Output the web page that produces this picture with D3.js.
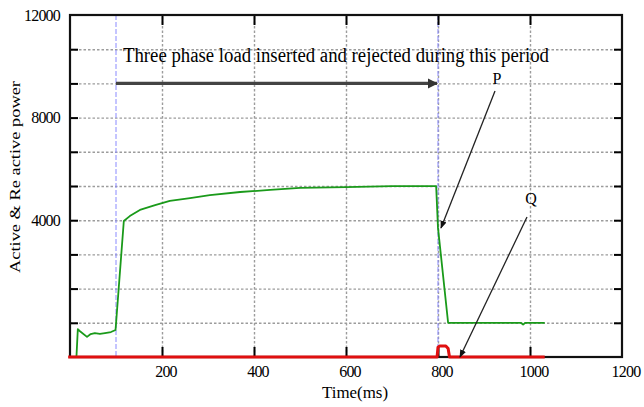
<!DOCTYPE html>
<html>
<head>
<meta charset="utf-8">
<script src="https://cdn.jsdelivr.net/npm/d3@7"></script>
<style>
  html, body { margin: 0; padding: 0; background: #fff; }
  svg text { font-family: "Liberation Serif", "DejaVu Serif", serif; fill: #000; }
</style>
</head>
<body>
<svg id="chart" width="644" height="407"></svg>
<script>
// ---------- data ----------
const xTickValues = [200, 400, 600, 800, 1000, 1200];
const yTickLabels = [4000, 8000, 12000];
const yGridStep = 4000 / 3;
const markerTimes = [100, 800];

const pTime  = [14, 17, 21, 37, 45, 54, 65, 76, 89, 99, 117, 130, 152, 185, 217, 261, 304, 370, 435, 500, 600, 700, 796, 800, 822, 900, 980, 985, 990, 1032];
const pValue = [-1333, -250, -320, -550, -440, -400, -430, -400, -360, -280, 3970, 4160, 4400, 4590, 4750, 4860, 4980, 5100, 5180, 5260, 5290, 5330, 5330, 3700, 0, 0, 0, -70, 0, 0];

const qTime  = [-4, 798, 800, 804, 817, 822, 825, 1032];
const qValue = [-1333, -1333, -950, -900, -900, -1000, -1333, -1333];

const annotationText = "Three phase load inserted and rejected during this period";
const xLabel = "Time(ms)";
const yLabel = "Active & Re active power";

// ---------- layout ----------
const W = 644, H = 407;
const margin = { left: 70, right: 22, top: 15, bottom: 50 };
const svg = d3.select("#chart");

const x = d3.scaleLinear().domain([0, 1200]).range([margin.left, W - margin.right]);
const y = d3.scaleLinear().domain([-yGridStep, 12000]).range([H - margin.bottom, margin.top]);

const x0 = x.range()[0], x1 = x.range()[1];
const yb = y.range()[0], yt = y.range()[1];
const pw = x1 - x0, ph = yb - yt;

// arrow markers
const defs = svg.append("defs");
defs.append("marker").attr("id", "arrBig")
  .attr("viewBox", "0 0 10 10").attr("refX", 9).attr("refY", 5)
  .attr("markerWidth", 3.2).attr("markerHeight", 3.2).attr("orient", "auto")
  .attr("markerUnits", "strokeWidth")
  .append("path").attr("d", "M0,0 L10,5 L0,10 z").attr("fill", "#333");
defs.append("marker").attr("id", "arrSmall")
  .attr("viewBox", "0 0 10 10").attr("refX", 9).attr("refY", 5)
  .attr("markerWidth", 6).attr("markerHeight", 6).attr("orient", "auto")
  .attr("markerUnits", "strokeWidth")
  .append("path").attr("d", "M0,1 L10,5 L0,9 z").attr("fill", "#111");

const gridY = d3.range(0, 9).map(k => k * yGridStep);
const gridX = xTickValues.slice(0, -1);

// gridlines via axes
const gY = svg.append("g").attr("transform", `translate(${x0},0)`)
  .call(d3.axisLeft(y).tickValues(gridY).tickSize(-pw).tickFormat(""));
const gX = svg.append("g").attr("transform", `translate(0,${yb})`)
  .call(d3.axisBottom(x).tickValues(gridX).tickSize(-ph).tickFormat(""));
[gY, gX].forEach(g => {
  g.select(".domain").remove();
  g.selectAll(".tick line").attr("stroke", "#9c9c9c").attr("stroke-width", 1.4).attr("stroke-dasharray", "2.5,2");
});

// blue marker lines
svg.append("g").selectAll("line").data(markerTimes).join("line")
  .attr("x1", d => x(d)).attr("x2", d => x(d))
  .attr("y1", yt).attr("y2", yb)
  .attr("stroke", "#8a8aff").attr("stroke-width", 1).attr("stroke-dasharray", "5,2");

// inner ticks via axes
const tickGroups = [
  svg.append("g").attr("transform", `translate(${x0},0)`).call(d3.axisLeft(y).tickValues(gridY).tickSize(-8).tickFormat("")),
  svg.append("g").attr("transform", `translate(${x1},0)`).call(d3.axisRight(y).tickValues(gridY).tickSize(-8).tickFormat("")),
  svg.append("g").attr("transform", `translate(0,${yb})`).call(d3.axisBottom(x).tickValues(gridX).tickSize(-10).tickFormat("")),
  svg.append("g").attr("transform", `translate(0,${yt})`).call(d3.axisTop(x).tickValues(gridX).tickSize(-10).tickFormat(""))
];
tickGroups.forEach(g => {
  g.select(".domain").remove();
  g.selectAll(".tick line").attr("stroke", "#000").attr("stroke-width", 2);
});

// frame
svg.append("rect").attr("x", x0).attr("y", yt).attr("width", pw).attr("height", ph)
  .attr("fill", "none").attr("stroke", "#111").attr("stroke-width", 2.2);

// series
const lineGen = d3.line().x(d => x(d[0])).y(d => y(d[1]));
svg.append("path").datum(d3.zip(pTime, pValue))
  .attr("d", lineGen).attr("fill", "none").attr("stroke", "#1a9a1a").attr("stroke-width", 1.8)
  .attr("stroke-linejoin", "round");
svg.append("path").datum(d3.zip(qTime, qValue))
  .attr("d", lineGen).attr("fill", "none").attr("stroke", "#e01010").attr("stroke-width", 3)
  .attr("stroke-linejoin", "round");

// tick labels
svg.append("g").selectAll("text").data(yTickLabels).join("text")
  .attr("x", x0 - 10).attr("y", d => y(d)).attr("dy", "0.35em")
  .attr("text-anchor", "end").attr("font-size", 16).attr("letter-spacing", -0.8)
  .text(d => d);
svg.append("g").selectAll("text").data(xTickValues).join("text")
  .attr("x", d => x(d) + 4).attr("y", yb + 20)
  .attr("text-anchor", "middle").attr("font-size", 16).attr("letter-spacing", -0.8)
  .text(d => d);

// axis titles
svg.append("text").attr("x", 355).attr("y", 398).attr("text-anchor", "middle")
  .attr("font-size", 16).attr("textLength", 66).attr("lengthAdjust", "spacingAndGlyphs")
  .text(xLabel);
svg.append("text").attr("transform", "translate(20,177) rotate(-90)")
  .attr("text-anchor", "middle").attr("font-size", 15)
  .attr("textLength", 192).attr("lengthAdjust", "spacingAndGlyphs")
  .text(yLabel);

// annotation text + period arrow
svg.append("text").attr("x", 123).attr("y", 62)
  .attr("font-size", 20).attr("textLength", 426).attr("lengthAdjust", "spacingAndGlyphs")
  .text(annotationText);
svg.append("line")
  .attr("x1", x(markerTimes[0])).attr("x2", x(markerTimes[1]) - 1)
  .attr("y1", y(7 * yGridStep)).attr("y2", y(7 * yGridStep))
  .attr("stroke", "#444").attr("stroke-width", 3.2)
  .attr("marker-end", "url(#arrBig)");

// P label + arrow
svg.append("text").attr("x", 497).attr("y", 84).attr("text-anchor", "middle")
  .attr("font-size", 16).text("P");
svg.append("line").attr("x1", 495).attr("y1", 91).attr("x2", 441).attr("y2", 228)
  .attr("stroke", "#222").attr("stroke-width", 1.3).attr("marker-end", "url(#arrSmall)");

// Q label + arrow
svg.append("text").attr("x", 531).attr("y", 204).attr("text-anchor", "middle")
  .attr("font-size", 16).text("Q");
svg.append("line").attr("x1", 527).attr("y1", 217).attr("x2", 460).attr("y2", 357)
  .attr("stroke", "#222").attr("stroke-width", 1.3).attr("marker-end", "url(#arrSmall)");
</script>
</body>
</html>
